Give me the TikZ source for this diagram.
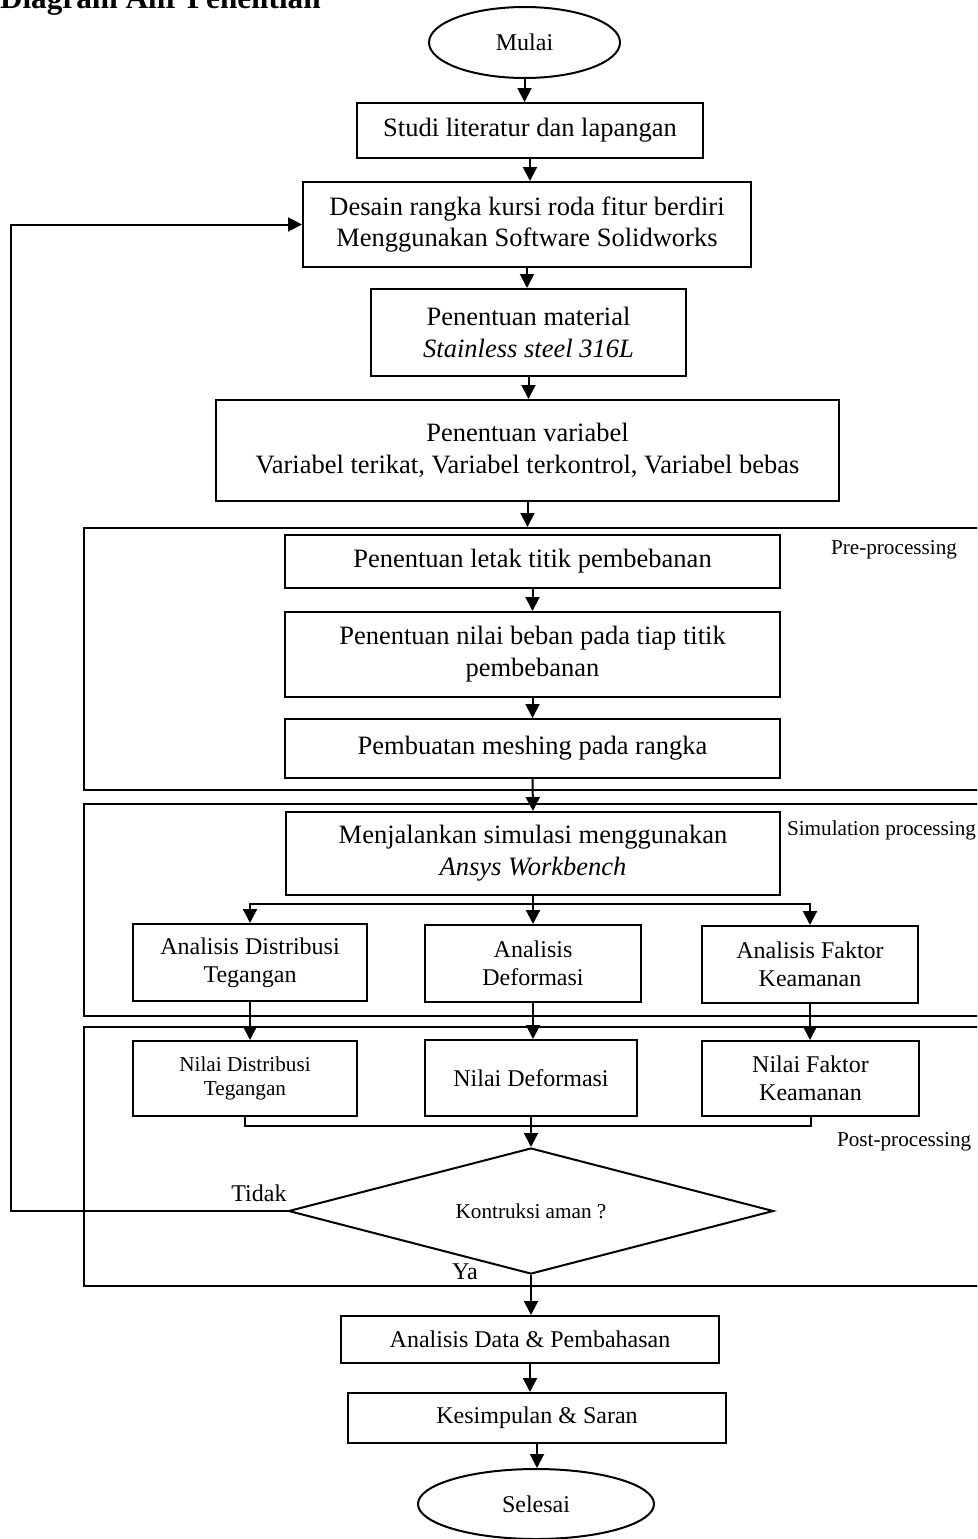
\documentclass[tikz,border=0pt]{standalone}
\usepackage{fontspec}
\setmainfont{Liberation Serif}
\usetikzlibrary{shapes.geometric,arrows.meta,calc}

\newcommand{\bigtxt}{\fontsize{26.5}{31.8}\selectfont}
\newcommand{\midtxt}{\fontsize{24}{27.6}\selectfont}
\newcommand{\smalltxt}{\fontsize{21.2}{24.3}\selectfont}

\begin{document}
\begin{tikzpicture}[x=1pt, y=-1pt, line width=2pt,
    box/.style={draw, rectangle, align=center, inner sep=0pt, font=\bigtxt},
    terminal/.style={draw, ellipse, inner sep=0pt, font=\midtxt},
    decision/.style={draw, diamond, aspect=3.85, inner sep=0pt, font=\smalltxt},
    frame/.style={draw, rectangle, inner sep=0pt, anchor=north west},
    lbl/.style={inner sep=0pt, font=\smalltxt},
    arr/.style={-{Triangle[length=14pt,width=14pt]}}]
    \useasboundingbox (0,0) rectangle (977,1539);
    \clip (0,0) rectangle (977,1539);

    \node[font=\fontsize{31.2}{36}\selectfont\bfseries, anchor=base west, inner sep=0pt] (judul) at (-1,8.5) {Diagram Alir Penelitian};

    \node[terminal, minimum width=191, minimum height=71] (mulai) at (524.5,42.5) {Mulai};
    \node[box, minimum width=346, minimum height=55] (studi) at (530,130.5) {Studi literatur dan lapangan};
    \node[box, minimum width=448, minimum height=85] (desain) at (527,224.5) {Desain rangka kursi roda fitur berdiri\\Menggunakan Software Solidworks};
    \node[box, minimum width=315, minimum height=87] (material) at (528.5,332.5) {Penentuan material\\\textit{Stainless steel 316L}};
    \node[box, minimum width=623, minimum height=101] (variabel) at (527.5,450.5) {Penentuan variabel\\Variabel terikat, Variabel terkontrol, Variabel bebas};

    \node[frame, minimum width=917, minimum height=262] (pre) at (83,527) {};
    \node[frame, minimum width=917, minimum height=212] (sim) at (83,803) {};
    \node[frame, minimum width=917, minimum height=259] (post) at (83,1026) {};
    \node[lbl, anchor=west] (prelbl) at (830,550) {Pre-processing};
    \node[lbl, anchor=west] (simlbl) at (786,830) {Simulation processing};
    \node[lbl, anchor=west] (postlbl) at (836,1142) {Post-processing};

    \node[box, minimum width=495, minimum height=53] (letak) at (532.5,561.5) {Penentuan letak titik pembebanan};
    \node[box, minimum width=495, minimum height=85] (beban) at (532.5,654.5) {Penentuan nilai beban pada tiap titik\\pembebanan};
    \node[box, minimum width=495, minimum height=59] (meshing) at (532.5,748.5) {Pembuatan meshing pada rangka};
    \node[box, minimum width=494, minimum height=83] (jalankan) at (533,853.5) {Menjalankan simulasi menggunakan\\\textit{Ansys Workbench}};

    \node[box, font=\midtxt, minimum width=234, minimum height=77] (adist) at (250,962.5) {Analisis Distribusi\\Tegangan};
    \node[box, font=\midtxt, minimum width=216, minimum height=77] (adef) at (533,963.5) {Analisis\\Deformasi};
    \node[box, font=\midtxt, minimum width=216, minimum height=77] (afak) at (810,964.5) {Analisis Faktor\\Keamanan};

    \node[box, font=\smalltxt, minimum width=224, minimum height=75] (ndist) at (245,1078.5) {Nilai Distribusi\\Tegangan};
    \node[box, font=\midtxt, minimum width=212, minimum height=76] (ndef) at (531,1078) {Nilai Deformasi};
    \node[box, font=\midtxt, minimum width=217, minimum height=75] (nfak) at (810.5,1078.5) {Nilai Faktor\\Keamanan};

    \node[decision, minimum width=485, minimum height=126] (aman) at (531,1211) {Kontruksi aman ?};
    \node[lbl, font=\midtxt, anchor=south east] (tidak) at ($(aman.west)+(0,-8)$) {Tidak};
    \node[lbl, font=\midtxt] (ya) at (465,1272) {Ya};

    \node[box, font=\midtxt, minimum width=378, minimum height=47] (data) at (530,1339.5) {Analisis Data \& Pembahasan};
    \node[box, font=\midtxt, minimum width=378, minimum height=50] (simpul) at (537,1418) {Kesimpulan \& Saran};
    \node[terminal, minimum width=236, minimum height=70] (selesai) at (536,1504) {Selesai};

    \coordinate (cabang) at (533,904);
    \coordinate (gabung) at (531,1126);
    \coordinate (balik) at (11,1211);

    \draw[arr] (mulai.south) -- (mulai.south |- studi.north);
    \draw[arr] (studi.south) -- (studi.south |- desain.north);
    \draw[arr] (desain.south) -- (desain.south |- material.north);
    \draw[arr] (material.south) -- (material.south |- variabel.north);
    \draw[arr] (variabel.south) -- (variabel.south |- pre.north);
    \draw[arr] (letak.south) -- (beban.north);
    \draw[arr] (beban.south) -- (meshing.north);
    \draw[arr] (meshing.south) -- (jalankan.north);
    \draw (jalankan.south) -- (cabang);
    \draw[arr] (cabang) -| (adist.north);
    \draw[arr] (cabang) -- (adef.north);
    \draw[arr] (cabang) -| (afak.north);
    \draw[arr] (adist.south) -- (adist.south |- ndist.north);
    \draw[arr] (adef.south) -- (adef.south |- ndef.north);
    \draw[arr] (afak.south) -- (afak.south |- nfak.north);
    \draw (ndist.south) |- (gabung) -| (nfak.south);
    \draw[arr] (ndef.south) -- (aman.north);
    \draw[arr] (aman.west) -- (balik) |- (desain.west);
    \draw[arr] (aman.south) -- (aman.south |- data.north);
    \draw[arr] (data.south) -- (data.south |- simpul.north);
    \draw[arr] (simpul.south) -- (simpul.south |- selesai.north);
\end{tikzpicture}
\end{document}
